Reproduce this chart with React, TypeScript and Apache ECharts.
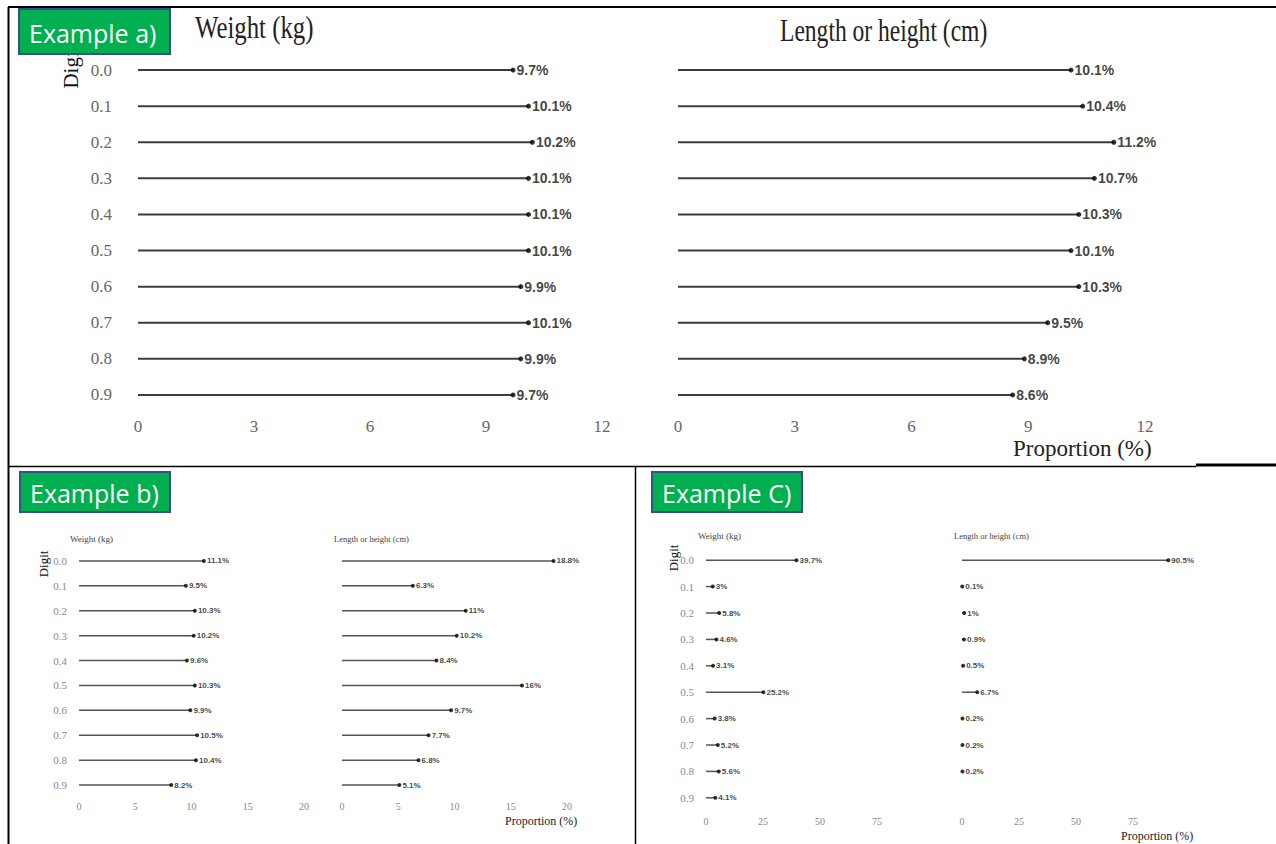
import { useEffect, useRef } from 'react';
import * as echarts from 'echarts';

// Terminal digit categories shared by every panel
const digits = ['0.0', '0.1', '0.2', '0.3', '0.4', '0.5', '0.6', '0.7', '0.8', '0.9'];

// Example a) proportions (%)
const weightA = [9.7, 10.1, 10.2, 10.1, 10.1, 10.1, 9.9, 10.1, 9.9, 9.7];
const lengthA = [10.1, 10.4, 11.2, 10.7, 10.3, 10.1, 10.3, 9.5, 8.9, 8.6];

// Example b) proportions (%)
const weightB = [11.1, 9.5, 10.3, 10.2, 9.6, 10.3, 9.9, 10.5, 10.4, 8.2];
const lengthB = [18.8, 6.3, 11, 10.2, 8.4, 16, 9.7, 7.7, 6.8, 5.1];

// Example C) proportions (%); the last length digit has no value
const weightC = [39.7, 3, 5.8, 4.6, 3.1, 25.2, 3.8, 5.2, 5.6, 4.1];
const lengthC = [90.5, 0.1, 1, 0.9, 0.5, 6.7, 0.2, 0.2, 0.2, null];

// Axis ranges per example: [max, interval]
const axisA = [12, 3];
const axisB = [20, 5];
const axisC = [100, 25];

const SERIF = 'Liberation Serif';
const SANS = 'Liberation Sans';

type Look = {
  tick: number;
  ylab: number;
  lab: number;
  dot: number;
  stem: number;
  stemColor: string;
  tickColor: string;
  yMargin: number;
  xMargin: number;
  showMax: boolean;
};

const looks: Record<string, Look> = {
  a: { tick: 17, ylab: 17, lab: 14, dot: 5, stem: 2, stemColor: '#3c3c3c', tickColor: '#666', yMargin: 26, xMargin: 5, showMax: true },
  b: { tick: 10, ylab: 11, lab: 8, dot: 4, stem: 1.5, stemColor: '#555', tickColor: '#888', yMargin: 12, xMargin: 4, showMax: true },
  c: { tick: 10, ylab: 11, lab: 8, dot: 4, stem: 1.5, stemColor: '#555', tickColor: '#888', yMargin: 12, xMargin: 5, showMax: false },
};

const panels = [
  { values: weightA, axis: axisA, look: 'a', yLabels: true, grid: { left: 138, top: 52, width: 464, height: 361 } },
  { values: lengthA, axis: axisA, look: 'a', yLabels: false, grid: { left: 678, top: 52, width: 467, height: 361 } },
  { values: weightB, axis: axisB, look: 'b', yLabels: true, grid: { left: 79, top: 548.5, width: 225, height: 249 } },
  { values: lengthB, axis: axisB, look: 'b', yLabels: false, grid: { left: 342, top: 548.5, width: 225, height: 249 } },
  { values: weightC, axis: axisC, look: 'c', yLabels: true, grid: { left: 706, top: 547, width: 228, height: 264 } },
  { values: lengthC, axis: axisC, look: 'c', yLabels: false, grid: { left: 962, top: 547, width: 228, height: 264 } },
];

function serifText(text: string, x: number, y: number, size: number, opts: any = {}) {
  return {
    type: 'text',
    x,
    y,
    z: opts.z ?? 10,
    rotation: opts.rotation ?? 0,
    scaleX: opts.scaleX ?? 1,
    style: {
      text,
      font: `${size}px "${SERIF}"`,
      fill: opts.fill ?? '#222',
      align: opts.align ?? 'left',
      verticalAlign: 'middle',
    },
  };
}

function tag(text: string, x: number, y: number, w: number, h: number) {
  return [
    {
      type: 'rect',
      z: 100,
      shape: { x, y, width: w, height: h },
      style: { fill: '#00B050', stroke: '#2F528F', lineWidth: 2 },
    },
    {
      type: 'text',
      z: 101,
      x: x + 10,
      y: y + h / 2 + 1,
      style: { text, font: '25px "Open Sans"', fill: '#fff', align: 'left', verticalAlign: 'middle' },
    },
  ];
}

function hline(x1: number, x2: number, y: number, w: number) {
  return { type: 'line', z: 90, shape: { x1, y1: y, x2, y2: y }, style: { stroke: '#000', lineWidth: w } };
}
function vline(x: number, y1: number, y2: number, w: number) {
  return { type: 'line', z: 90, shape: { x1: x, y1, x2: x, y2 }, style: { stroke: '#000', lineWidth: w } };
}

function buildOption() {
  const grid = panels.map((p) => ({ ...p.grid }));
  const xAxis = panels.map((p, i) => {
    const lk = looks[p.look];
    return {
      type: 'value',
      gridIndex: i,
      min: 0,
      max: p.axis[0],
      interval: p.axis[1],
      axisLine: { show: false },
      axisTick: { show: false },
      splitLine: { show: false },
      axisLabel: {
        color: lk.tickColor,
        fontFamily: SERIF,
        fontSize: lk.tick,
        margin: lk.xMargin,
        showMaxLabel: lk.showMax,
      },
    };
  });
  const yAxis = panels.map((p, i) => {
    const lk = looks[p.look];
    return {
      type: 'category',
      gridIndex: i,
      data: digits,
      inverse: true,
      axisLine: { show: false },
      axisTick: { show: false },
      splitLine: { show: false },
      axisLabel: {
        show: p.yLabels,
        color: lk.tickColor,
        fontFamily: SERIF,
        fontSize: lk.ylab,
        margin: lk.yMargin,
      },
    };
  });
  const series: any[] = [];
  panels.forEach((p, i) => {
    const lk = looks[p.look];
    series.push({
      type: 'bar',
      xAxisIndex: i,
      yAxisIndex: i,
      silent: true,
      barWidth: lk.stem,
      itemStyle: { color: lk.stemColor },
      data: p.values.map((v) => (v == null ? '-' : v)),
    });
    series.push({
      type: 'scatter',
      xAxisIndex: i,
      yAxisIndex: i,
      silent: true,
      symbol: 'circle',
      symbolSize: lk.dot,
      itemStyle: { color: '#000' },
      label: {
        show: true,
        position: 'right',
        distance: 1,
        formatter: (d: any) => `${d.value[0]}%`,
        fontFamily: SANS,
        fontWeight: 'bold',
        fontSize: lk.lab,
        color: '#111',
      },
      data: p.values
        .map((v, j) => (v == null ? null : [v, j]))
        .filter((d) => d !== null),
    });
  });

  const graphic: any[] = [
    // frame lines
    hline(8, 1276, 7, 2),
    vline(8.5, 7, 844, 2),
    hline(8, 1196, 466.5, 1.5),
    hline(1196, 1276, 465, 3),
    vline(635.5, 466, 844, 1.5),

    // Example a) titles
    serifText('Digit', 71, 67, 21, { rotation: Math.PI / 2, align: 'center', fill: '#111', z: 50 }),
    serifText('Weight (kg)', 195, 28, 31, { scaleX: 0.8, fill: '#222' }),
    serifText('Length or height (cm)', 780, 30, 31, { scaleX: 0.76, fill: '#222' }),
    serifText('Proportion (%)', 1013, 448, 23, { fill: '#222' }),

    // Example b) titles
    serifText('Digit', 43, 564, 13, { rotation: Math.PI / 2, align: 'center', fill: '#111' }),
    serifText('Weight (kg)', 70, 539, 9, { fill: '#444' }),
    serifText('Length or height (cm)', 334, 539, 8.5, { fill: '#444' }),
    serifText('Proportion (%)', 505, 821, 12, { fill: '#222' }),

    // Example C) titles
    serifText('Digit', 673, 558, 13, { rotation: Math.PI / 2, align: 'center', fill: '#111' }),
    serifText('Weight (kg)', 698, 536, 9, { fill: '#444' }),
    serifText('Length or height (cm)', 954, 536, 8.5, { fill: '#444' }),
    serifText('Proportion (%)', 1121, 836, 12, { fill: '#222' }),

    ...tag('Example a)', 19, 9, 151, 45),
    ...tag('Example b)', 20, 472, 150, 40),
    ...tag('Example C)', 652, 472, 150, 40),
  ];

  return {
    animation: false,
    backgroundColor: '#fff',
    grid,
    xAxis,
    yAxis,
    series,
    graphic,
  };
}

export default function App() {
  const ref = useRef<HTMLDivElement>(null);
  useEffect(() => {
    if (!ref.current) return;
    const chart = echarts.init(ref.current, null, { renderer: 'svg' });
    chart.setOption(buildOption() as any);
    return () => chart.dispose();
  }, []);
  return (
    <div
      ref={ref}
      style={{ position: 'fixed', left: 0, top: 0, width: 1276, height: 844, background: '#fff' }}
    />
  );
}
